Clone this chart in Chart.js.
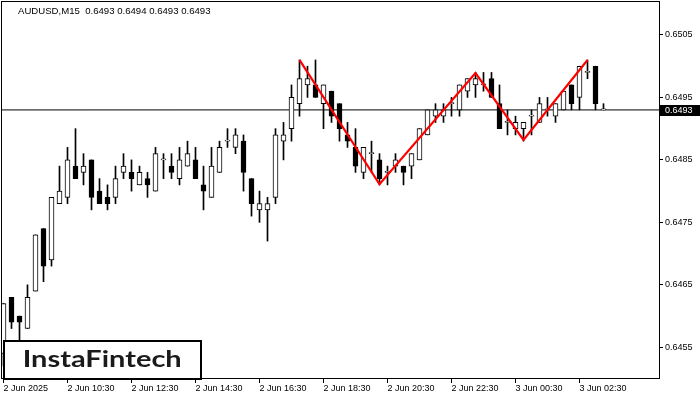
<!DOCTYPE html>
<html><head><meta charset="utf-8">
<script src="https://cdn.jsdelivr.net/npm/chart.js@4.4.1/dist/chart.umd.min.js"></script>
<style>html,body{margin:0;padding:0;background:#fff;overflow:hidden}#wrap{width:700px;height:400px}</style>
</head><body><div id="wrap"><canvas id="c" width="700" height="400"></canvas></div>
<script>
// ---- data (AUDUSD M15) ----
const opens  = [0.6454,0.6463,0.6460,0.6458,0.6464,0.6474,0.6469,0.6478,0.6479,0.6484,
                0.6483,0.6485,0.6480,0.6479,0.6479,0.6483,0.6483,0.6481,0.6482,0.6480,
                0.6485,0.6484,0.6482,0.6484,0.6485,0.6481,0.6479,0.6483,0.6488,0.6487,
                0.6488,0.6482,0.6477,0.6477,0.6479,0.6488,0.6490,0.6494,0.6497,0.6497,
                0.6494,0.6496,0.6494,0.6489,0.6487,0.6483,0.6486,0.6485,0.6483,0.6484,
                0.6484,0.6484,0.6485,0.6489,0.6492,0.6492,0.6494,0.6493,0.6496,0.6497,
                0.6497,0.6498,0.6494,0.6491,0.6490,0.6490,0.6492,0.6491,0.6493,0.6492,
                0.6493,0.6497,0.6495,0.6499,0.6500,0.6493];
const highs  = [0.6462,0.6463,0.6460,0.6465,0.6473,0.6474,0.6479,0.6484,0.6487,0.6490,
                0.6486,0.6485,0.6482,0.6481,0.6484,0.6486,0.6485,0.6484,0.6483,0.6487,
                0.6486,0.6486,0.6487,0.6488,0.6487,0.6484,0.6487,0.6488,0.6490,0.6490,
                0.6489,0.6482,0.6480,0.6479,0.6490,0.6491,0.6497,0.6501,0.6500,0.6501,
                0.6497,0.6496,0.6494,0.6491,0.6490,0.6487,0.6488,0.6486,0.6484,0.6486,
                0.6484,0.6486,0.6490,0.6493,0.6494,0.6494,0.6495,0.6497,0.6498,0.6499,
                0.6499,0.6499,0.6497,0.6493,0.6492,0.6491,0.6493,0.6495,0.6495,0.6494,
                0.6496,0.6497,0.6500,0.6501,0.6500,0.6494];
const lows   = [0.6452,0.6458,0.6455,0.6458,0.6464,0.64655,0.6468,0.6478,0.6478,0.6482,
                0.6481,0.6477,0.6478,0.6477,0.6478,0.6482,0.6480,0.6481,0.6479,0.6480,
                0.6482,0.6482,0.6481,0.6484,0.6482,0.6477,0.6479,0.6483,0.6487,0.6486,
                0.6480,0.6476,0.6475,0.6472,0.6478,0.6485,0.6488,0.6492,0.6495,0.6495,
                0.6490,0.6491,0.6488,0.6487,0.6483,0.6482,0.6483,0.6481,0.6481,0.6483,
                0.6481,0.6482,0.6485,0.6489,0.6491,0.6491,0.6492,0.6492,0.6495,0.6495,
                0.6496,0.6495,0.6490,0.6489,0.6489,0.6488,0.6489,0.6491,0.6492,0.6491,
                0.6493,0.6493,0.6493,0.6498,0.6493,0.6493];
const closes = [0.6462,0.6459,0.6459,0.6463,0.6473,0.6468,0.6479,0.6480,0.6485,0.6482,
                0.6484,0.6479,0.6478,0.6478,0.6482,0.6484,0.6482,0.6483,0.6481,0.6486,
                0.6485,0.6483,0.6485,0.6486,0.6482,0.6480,0.6484,0.6487,0.6488,0.6489,
                0.6483,0.6478,0.6478,0.6478,0.6489,0.6489,0.6495,0.6498,0.6498,0.6495,
                0.6497,0.6492,0.6490,0.6488,0.6484,0.6487,0.6486,0.6482,0.6483,0.6485,
                0.6483,0.6486,0.6490,0.6493,0.6493,0.6493,0.6494,0.6497,0.6498,0.6498,
                0.6497,0.6495,0.6490,0.6491,0.6491,0.6491,0.6492,0.6494,0.6493,0.6494,
                0.6496,0.6494,0.6500,0.6499,0.6494,0.6493];
const xTickIdx    = [0,8,16,24,32,40,48,56,64,72];
const xTickLabels = ['2 Jun 2025','2 Jun 10:30','2 Jun 12:30','2 Jun 14:30','2 Jun 16:30',
                     '2 Jun 18:30','2 Jun 20:30','2 Jun 22:30','3 Jun 00:30','3 Jun 02:30'];
const yTicks      = [0.6455,0.6465,0.6475,0.6485,0.6495,0.6505];
const lastPrice   = 0.6493;
const headerText  = 'AUDUSD,M15  0.6493 0.6494 0.6493 0.6493';
const patternIdx   = [37,47,59,65,73];
const patternPrice = [0.6501,0.64811,0.64989,0.64882,0.6501];
const logoText = 'InstaFintech';

// ---- chart ----
Chart.defaults.color = '#000';
Chart.defaults.font.family = 'Liberation Sans, Arial, sans-serif';
Chart.defaults.font.size = 9;

const overlay = {
  id: 'overlay',
  afterDraw(chart) {
    const ctx = chart.ctx, a = chart.chartArea, ys = chart.scales.y;
    ctx.save();
    // frame
    ctx.strokeStyle = '#000'; ctx.lineWidth = 1;
    ctx.strokeRect(a.left - 0.5, a.top - 0.5, a.right - a.left + 1, a.bottom - a.top + 1);
    // header
    ctx.fillStyle = '#000';
    ctx.font = '9.6px "Liberation Sans", Arial, sans-serif';
    ctx.textBaseline = 'middle'; ctx.textAlign = 'left';
    ctx.fillText(headerText, 18, 11.5);
    // last price box
    const py = Math.round(ys.getPixelForValue(lastPrice));
    ctx.fillStyle = '#000';
    ctx.fillRect(a.right + 1, py - 5, 700 - a.right - 1, 11);
    ctx.fillStyle = '#fff';
    ctx.font = '9px "Liberation Sans", Arial, sans-serif';
    ctx.fillText(lastPrice.toFixed(4), a.right + 6, py + 0.5);
    // logo box
    ctx.fillStyle = '#000';
    ctx.fillRect(3, 340, 199, 40);
    ctx.fillStyle = '#fff';
    ctx.fillRect(5, 342, 195, 36);
    ctx.fillStyle = '#1a1a1a';
    ctx.font = 'bold 23px Lato, "Open Sans", sans-serif';
    ctx.textBaseline = 'alphabetic';
    const w = ctx.measureText(logoText).width;
    ctx.translate(22.7, 367.3);
    ctx.scale(159 / w, 1);
    ctx.fillText(logoText, 0, 0);
    ctx.restore();
  }
};

new Chart(document.getElementById('c'), {
  type: 'bar',
  data: {
    datasets: [
      {
        type: 'line', label: 'pattern', order: 0,
        data: patternIdx.map((x, i) => ({x, y: patternPrice[i]})),
        borderColor: '#ff0000', borderWidth: 2.2, pointRadius: 0, tension: 0, fill: false
      },
      {
        type: 'bar', label: 'body', order: 1, grouped: false,
        data: opens.map((o, i) => ({x: i, y: [o, closes[i]]})),
        backgroundColor: opens.map((o, i) => closes[i] >= o ? '#ffffff' : '#000000'),
        borderColor: '#000', borderWidth: 1, borderSkipped: false,
        barThickness: 5, minBarLength: 1
      },
      {
        type: 'bar', label: 'wick', order: 2, grouped: false,
        data: lows.map((l, i) => ({x: i, y: [l, highs[i]]})),
        backgroundColor: '#000', borderWidth: 0, barThickness: 1, minBarLength: 1
      },
      {
        type: 'line', label: 'last', order: 3,
        data: [{x: -5, y: lastPrice}, {x: 90, y: lastPrice}],
        borderColor: '#000', borderWidth: 1, pointRadius: 0, fill: false
      }
    ]
  },
  options: {
    responsive: false, animation: false,
    layout: {padding: {left: 2, top: 2, right: 0, bottom: 0}},
    plugins: {legend: {display: false}, tooltip: {enabled: false}},
    scales: {
      x: {
        type: 'linear', position: 'bottom', offset: false,
        min: -0.1875, max: 81.9375,
        grid: {offset: false, drawOnChartArea: false, drawTicks: true, tickLength: 5, color: '#000'},
        border: {display: false},
        afterBuildTicks: s => { s.ticks = xTickIdx.map(v => ({value: v})); },
        afterFit: s => { s.height = 22; s.paddingLeft = 0; s.paddingRight = 0; },
        ticks: {
          autoSkip: false, maxRotation: 0, minRotation: 0, align: 'start', padding: 0,
          callback: v => xTickLabels[xTickIdx.indexOf(v)]
        }
      },
      y: {
        type: 'linear', position: 'right', beginAtZero: false,
        min: 0.645008, max: 0.651028,
        grid: {drawOnChartArea: false, drawTicks: true, tickLength: 4, color: '#000'},
        border: {display: false},
        afterBuildTicks: s => { s.ticks = yTicks.map(v => ({value: v})); },
        afterFit: s => { s.width = 41; s.paddingTop = 0; s.paddingBottom = 0; },
        ticks: {padding: 2, callback: v => v.toFixed(4)}
      }
    }
  },
  plugins: [overlay]
});
</script></body></html>
